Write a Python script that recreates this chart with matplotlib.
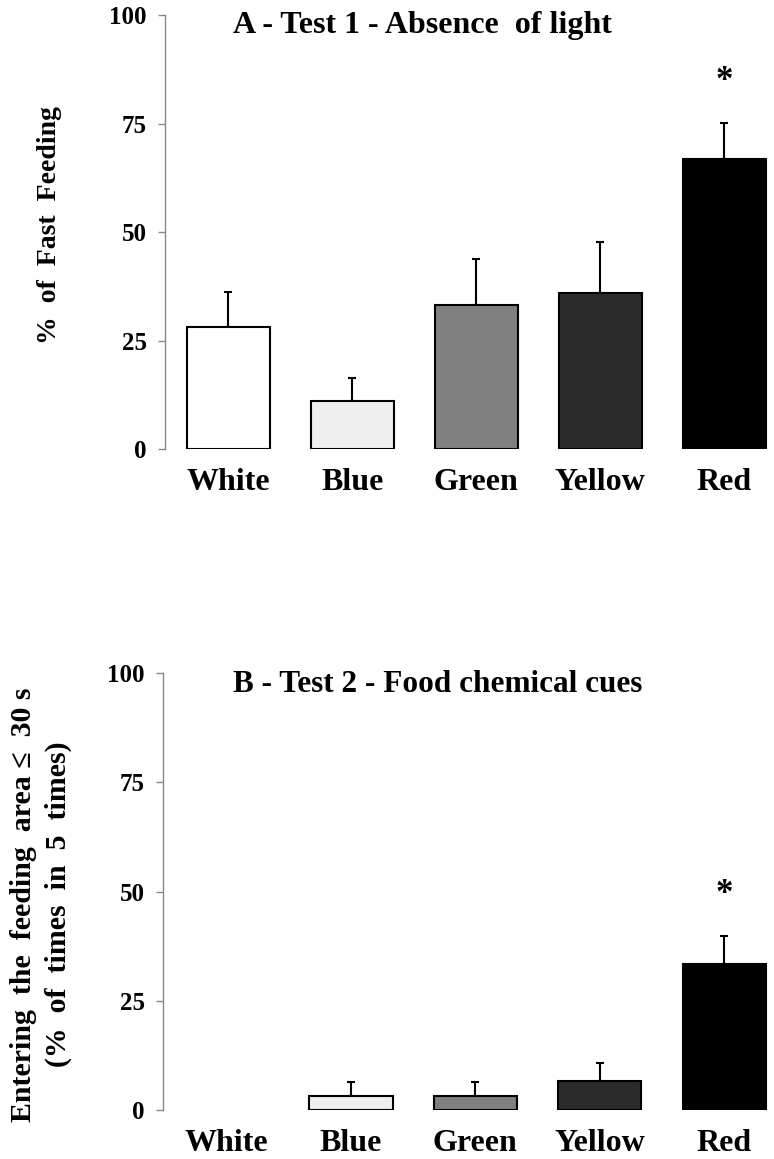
import numpy as np
import matplotlib.pyplot as plt

plt.rcParams['font.family'] = ['Liberation Serif', 'DejaVu Serif']
plt.rcParams['font.weight'] = 'bold'

colores = ["White", "Blue", "Green", "Yellow", "Red"]
relleno = ["#ffffff", "#efefef", "#808080", "#2b2b2b", "#000000"]

# panel A - test 1
media_a = [28.1, 11.1, 33.2, 35.9, 66.8]
error_a = [8.0, 5.3, 10.6, 11.8, 8.3]
# panel B - test 2
media_b = [0.0, 3.3, 3.3, 6.7, 33.3]
error_b = [0.0, 3.2, 3.2, 4.0, 6.5]

fig = plt.figure(figsize=(7.74, 11.59), dpi=100)
ax1 = fig.add_axes([0.2132, 0.6126, 0.7868, 0.3744])
ax2 = fig.add_axes([0.2106, 0.0423, 0.7894, 0.3770])

def panel(ax, media, error, star):
    x = np.arange(len(colores))
    bordes = ["black" if m > 0 else "none" for m in media]
    ax.bar(x, media, width=0.67, color=relleno, edgecolor=bordes, linewidth=1.5, zorder=2)
    con = [i for i in range(len(error)) if error[i] > 0]
    ax.errorbar(x[con], np.array(media)[con], yerr=[np.zeros(len(con)), np.array(error)[con]],
                fmt="none", ecolor="black", elinewidth=1.5, capsize=3, capthick=1.5, zorder=1)
    ax.text(4, star, "*", ha="center", va="center", fontsize=25, fontweight="bold")
    ax.set_xlim(-0.51, 4.4)
    ax.set_ylim(0, 100)
    ax.set_yticks([0, 25, 50, 75, 100])
    ax.set_xticks(x)
    ax.set_xticklabels(colores, fontsize=23, fontweight="bold")
    ax.tick_params(axis="x", length=0, pad=14)
    ax.tick_params(axis="y", length=5, color="#888888", width=1, pad=8, labelsize=18)
    for s in ["top", "right", "bottom"]:
        ax.spines[s].set_visible(False)
    ax.spines["left"].set_color("#888888")
    ax.spines["left"].set_linewidth(1)

panel(ax1, media_a, error_a, 84.6)
panel(ax2, media_b, error_b, 49.4)

ax1.set_ylabel("%  of  Fast  Feeding", fontsize=20, fontweight="bold", va="center")
ax1.yaxis.set_label_coords(-0.189, 0.515)
ax2.set_ylabel("Entering  the  feeding  area \u2264  30 s\n(%  of  times  in  5  times)",
               fontsize=21.5, fontweight="bold", linespacing=1.35, va="center")
ax2.yaxis.set_label_coords(-0.2, 0.47)

fig.text(233 / 774, 1 - 26 / 1159, "A - Test 1 - Absence  of light", fontsize=23,
         fontweight="bold", ha="left", va="center")
fig.text(233 / 774, 1 - 684 / 1159, "B - Test 2 - Food chemical cues", fontsize=22.5,
         fontweight="bold", ha="left", va="center")

fig.savefig("out.png", dpi=100)
